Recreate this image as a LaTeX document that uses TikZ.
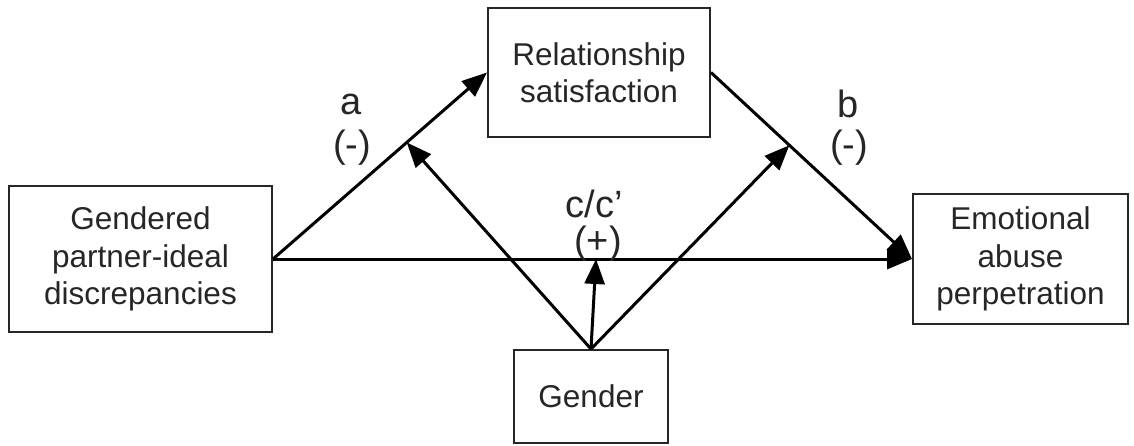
\documentclass[tikz,border=0pt]{standalone}
\usepackage{fontspec}
\setmainfont{Liberation Sans}
\usetikzlibrary{arrows.meta}
\begin{document}
\begin{tikzpicture}[x=1pt,y=-1pt,
  box/.style={draw=black!85,line width=2pt,rectangle,align=center,inner sep=0pt,
    font=\fontsize{31.5}{37.5}\selectfont,text=black!85},
  lbl/.style={inner sep=0pt,font=\fontsize{38}{43}\selectfont,text=black!85},
  arr/.style={line width=3pt,-{Triangle[length=25pt,width=20pt]}}]
\useasboundingbox (0,0) rectangle (1134,445);
\node[box,minimum width=263pt,minimum height=146pt] (left) at (140.5,259) {Gendered\\partner-ideal\\discrepancies};
\node[box,minimum width=222pt,minimum height=129pt] (rel) at (599,72.5) {Relationship\\satisfaction};
\node[box,minimum width=215pt,minimum height=130pt] (emo) at (1020.5,259) {Emotional\\abuse\\perpetration};
\node[box,minimum width=154pt,minimum height=93pt] (gender) at (591,396.5) {Gender};
\path (left.east) -- (rel.west) coordinate[pos=0.625] (am);
\path (rel.east) -- (emo.west) coordinate[pos=0.39] (bm);
\coordinate (cm) at (596,259);
\draw[arr] (left.east) -- (rel.west);
\draw[arr] (rel.east) -- (emo.west);
\draw[arr] (left.east) -- (emo.west);
\draw[arr] (gender.north) -- (am);
\draw[arr] (gender.north) -- (bm);
\draw[arr] (gender.north) -- (cm);
\node[lbl] (la) at (351,104) {a};
\node[lbl] (lam) at (352,148) {(-)};
\node[lbl] (lb) at (848,104) {b};
\node[lbl] (lbm) at (849,148) {(-)};
\node[lbl] (lc) at (594,204) {c/c’};
\node[lbl] (lcm) at (598,244) {(+)};
\end{tikzpicture}
\end{document}
